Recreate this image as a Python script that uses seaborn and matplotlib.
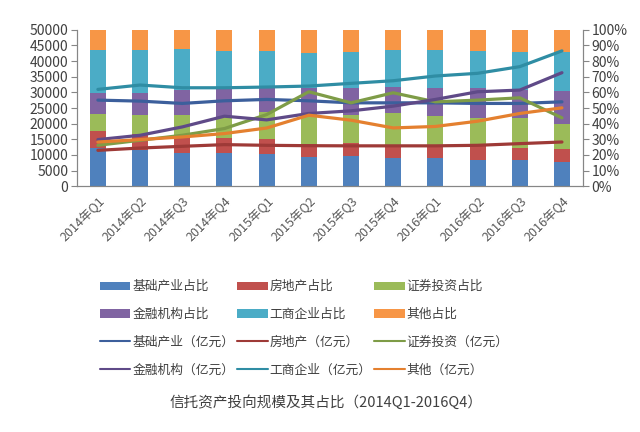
import numpy as np
import pandas as pd
import matplotlib
matplotlib.use('Agg')
import matplotlib.pyplot as plt
import seaborn as sns
from matplotlib.patches import Patch
from matplotlib.lines import Line2D
from matplotlib.ticker import FuncFormatter, MultipleLocator

quarters = ['2014年Q1', '2014年Q2', '2014年Q3', '2014年Q4',
            '2015年Q1', '2015年Q2', '2015年Q3', '2015年Q4',
            '2016年Q1', '2016年Q2', '2016年Q3', '2016年Q4']
categories = ['基础产业', '房地产', '证券投资', '金融机构', '工商企业', '其他']

# 占比 (%)
share_jichu = [24.4, 23.4, 21.4, 21.4, 20.8, 18.6, 19.1, 18.2, 18.2, 17.0, 16.5, 15.3]
share_fangdichan = [10.6, 9.8, 10.1, 9.7, 9.2, 8.2, 8.5, 8.4, 7.9, 8.5, 7.9, 8.2]
share_zhengquan = [11.0, 12.2, 13.9, 13.2, 17.5, 19.7, 18.2, 20.3, 18.7, 18.2, 18.9, 16.0]
share_jinrong = [13.5, 13.9, 16.1, 18.3, 15.1, 16.1, 16.8, 16.7, 18.1, 19.2, 18.2, 21.4]
share_gongshang = [27.7, 27.9, 26.1, 23.9, 23.9, 22.4, 23.1, 23.6, 24.3, 23.6, 24.2, 25.0]
share_qita = [12.8, 12.8, 12.4, 13.5, 13.5, 15.0, 14.3, 12.8, 12.8, 13.5, 14.3, 14.1]

# 规模 (亿元)
amt_jichu = [27520, 27200, 26460, 27300, 27740, 27300, 26650, 26650, 26650, 26460, 26460, 26970]
amt_fangdichan = [11460, 12200, 12750, 13290, 13070, 12950, 12900, 12900, 12900, 13070, 13610, 14130]
amt_zhengquan = [13070, 14680, 16280, 18430, 22900, 30190, 26650, 29870, 26970, 27520, 28260, 21840]
amt_jinrong = [14900, 16280, 18950, 22380, 21200, 23250, 24090, 25590, 27740, 30190, 30730, 36290]
amt_gongshang = [30950, 32340, 31470, 31470, 31700, 32020, 32880, 33720, 35230, 36090, 38220, 43260]
amt_qita = [14130, 14900, 15740, 16830, 18600, 22700, 21100, 18630, 19100, 20780, 23250, 25050]

bar_colors = ['#4F81BD', '#C0504D', '#9BBB59', '#8064A2', '#4BACC6', '#F79646']
line_colors = ['#3C5F9C', '#9E3A37', '#7E9C47', '#5F4A88', '#2F8DA4', '#E4802F']

shares = [share_jichu, share_fangdichan, share_zhengquan, share_jinrong, share_gongshang, share_qita]
amounts = [amt_jichu, amt_fangdichan, amt_zhengquan, amt_jinrong, amt_gongshang, amt_qita]

sns.set_style('white')
plt.rcParams['font.family'] = ['Noto Sans CJK SC', 'DejaVu Sans']

fig = plt.figure(figsize=(6.4, 4.32), dpi=100)
ax = fig.add_axes([0.12, 0.569, 0.791, 0.362])
axr = ax.twinx()

# 堆叠柱：从最高的累计值往下画
cum = np.cumsum(np.array(shares), axis=0) / 100.0
for i in range(len(categories) - 1, -1, -1):
    sns.barplot(x=quarters, y=cum[i], color=bar_colors[i], width=0.38,
                saturation=1, ax=axr, edgecolor='none')

# 规模折线
df = pd.DataFrame({
    '季度': quarters * len(categories),
    '类别': [c for c in categories for _ in quarters],
    '规模': np.concatenate(amounts),
})
sns.lineplot(data=df, x='季度', y='规模', hue='类别', hue_order=categories,
             palette=line_colors, linewidth=2.3, sort=False, legend=False, ax=ax)

ax.set_zorder(axr.get_zorder() + 1)
ax.patch.set_visible(False)

ax.set_xlim(-0.5, len(quarters) - 0.5)
ax.set_ylim(0, 50000)
axr.set_ylim(0, 1)
ax.yaxis.set_major_locator(MultipleLocator(5000))
axr.yaxis.set_major_locator(MultipleLocator(0.1))
axr.yaxis.set_major_formatter(FuncFormatter(lambda v, p: f'{v * 100:.0f}%'))
ax.set_xlabel('')
ax.set_ylabel('')
axr.set_ylabel('')

ax.set_xticks(range(len(quarters)))
ax.set_xticklabels(quarters, rotation=45, ha='right', rotation_mode='anchor')
ax.set_xticks(np.arange(-0.5, len(quarters)), minor=True)
ax.tick_params(axis='x', which='major', length=0, pad=6, labelsize=9, labelcolor='#595959')
ax.tick_params(axis='x', which='minor', length=4, color='#868686', direction='out')
ax.tick_params(axis='y', length=4, color='#868686', labelsize=10, labelcolor='#404040', pad=2)
axr.tick_params(axis='y', length=4, color='#868686', labelsize=10, labelcolor='#404040', pad=2)

for a in (ax, axr):
    a.spines['top'].set_visible(False)
    for s in ['left', 'right', 'bottom']:
        a.spines[s].set_color('#868686')
        a.spines[s].set_linewidth(0.8)

# 图例（按列排列，以得到行顺序）
handles, labels = [], []
for col in range(3):
    for i in (col, col + 3):
        handles.append(Patch(facecolor=bar_colors[i], edgecolor='none'))
        labels.append(categories[i] + '占比')
    for i in (col, col + 3):
        handles.append(Line2D([], [], color=line_colors[i], lw=1.5))
        labels.append(categories[i] + '（亿元）')
fig.legend(handles, labels, ncol=3, loc='upper left', bbox_to_anchor=(0.146, 0.366),
           frameon=False, fontsize=9.2, handlelength=2.4, handleheight=0.6,
           handletextpad=0.15, columnspacing=0.2, labelspacing=1.15, borderpad=0,
           labelcolor='#404040')

fig.text(0.51, 0.068, '信托资产投向规模及其占比（2014Q1-2016Q4）', ha='center', va='center',
         fontsize=10.5, color='#404040')

fig.savefig('out.png', dpi=100, facecolor='white')
